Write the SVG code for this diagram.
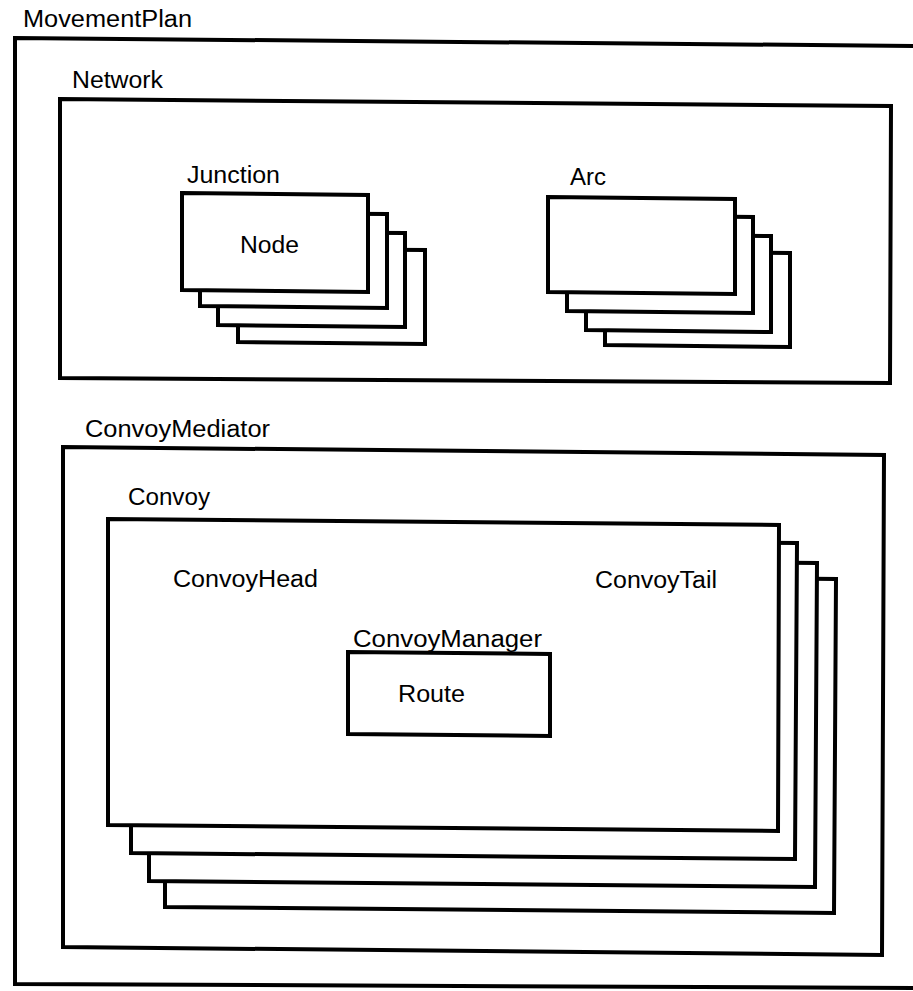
<svg xmlns="http://www.w3.org/2000/svg" width="913" height="991" viewBox="0 0 913 991">
  <style>
    .box { fill: #ffffff; stroke: #000000; stroke-width: 4; stroke-linejoin: miter; }
    .lbl { font-family: "Liberation Sans", Arial, Helvetica, sans-serif; font-size: 23px; fill: #000000; }
  </style>
  <rect x="0" y="0" width="913" height="991" fill="#ffffff"/>

  <g id="MovementPlan">
    <polygon class="box" points="15,38 918,46 918,988 15,984"/>
    <text class="lbl" x="23" y="27" textLength="169" lengthAdjust="spacingAndGlyphs">MovementPlan</text>
  </g>

  <g id="Network">
    <polygon class="box" points="60,99 891,106 890,383 60,378"/>
    <text class="lbl" x="72" y="88" textLength="91" lengthAdjust="spacingAndGlyphs">Network</text>
  </g>

  <g id="Junction">
    <polygon class="box" points="238,249 425,250 425,344 238,342"/>
    <polygon class="box" points="218,232 405,233 405,327 218,325"/>
    <polygon class="box" points="200,213 387,214 387,308 200,306"/>
    <polygon class="box" points="182,193 368,195 368,292 182,290"/>
    <text class="lbl" x="187" y="183" textLength="93" lengthAdjust="spacingAndGlyphs">Junction</text>
    <text class="lbl" x="240" y="253" textLength="59" lengthAdjust="spacingAndGlyphs">Node</text>
  </g>

  <g id="Arc">
    <polygon class="box" points="605,251 790,253 790,347 605,345"/>
    <polygon class="box" points="586,234 771,236 771,332 586,330"/>
    <polygon class="box" points="567,215 753,217 753,313 567,311"/>
    <polygon class="box" points="548,197 735,199 735,294 548,292"/>
    <text class="lbl" x="570" y="185" textLength="36" lengthAdjust="spacingAndGlyphs">Arc</text>
  </g>

  <g id="ConvoyMediator">
    <polygon class="box" points="63,447 884,455 882,955 63,947"/>
    <text class="lbl" x="85" y="437" textLength="185" lengthAdjust="spacingAndGlyphs">ConvoyMediator</text>
  </g>

  <g id="Convoy">
    <polygon class="box" points="165,573 836,579 834,913 165,907"/>
    <polygon class="box" points="149,557 817,563 815,887 149,881"/>
    <polygon class="box" points="131,537 797,543 795,859 131,853"/>
    <polygon class="box" points="108,519 779,525 778,831 108,825"/>
    <text class="lbl" x="128" y="505" textLength="82" lengthAdjust="spacingAndGlyphs">Convoy</text>
    <text class="lbl" x="173" y="587" textLength="145" lengthAdjust="spacingAndGlyphs">ConvoyHead</text>
    <text class="lbl" x="595" y="588" textLength="122" lengthAdjust="spacingAndGlyphs">ConvoyTail</text>
  </g>

  <g id="ConvoyManager">
    <polygon class="box" points="348,652 550,654 550,736 348,734"/>
    <text class="lbl" x="353" y="647" textLength="189" lengthAdjust="spacingAndGlyphs">ConvoyManager</text>
    <text class="lbl" x="398" y="702" textLength="67" lengthAdjust="spacingAndGlyphs">Route</text>
  </g>

  <g id="connectors"/>
</svg>
